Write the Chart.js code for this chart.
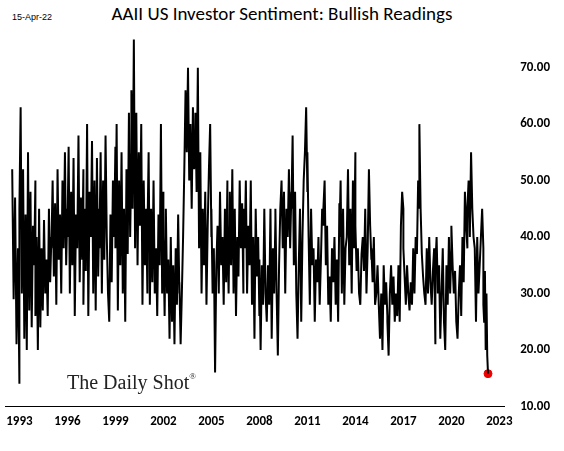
<!DOCTYPE html>
<html>
<head>
<meta charset="utf-8">
<script src="https://cdn.jsdelivr.net/npm/chart.js@4/dist/chart.umd.min.js"></script>
<style>
  html, body { margin: 0; padding: 0; background: #fff; }
  #wrap { position: relative; width: 564px; height: 451px; }
  #title { position: absolute; top: 2px; left: 0; width: 564px; text-align: center;
    font: 19px Calibri, "Liberation Sans", Arial, sans-serif; color: #000; }
  #date { position: absolute; top: 12px; left: 12px; font: 9px "Liberation Sans", Arial, sans-serif; }
  #chartBox { position: absolute; left: 0; top: 18px; width: 564px; height: 433px; }
</style>
</head>
<body>
<div id="wrap">
  <div id="title">AAII US Investor Sentiment: Bullish Readings</div>
  <div id="date">15-Apr-22</div>
  <div id="chartBox"><canvas id="c"></canvas></div>
</div>
<script>
// Bullish % readings, sampled roughly every 4 weeks, one row per calendar year
const startYears = [1992.55, 1993, 1994, 1995, 1996, 1997, 1998, 1999, 2000, 2001, 2002, 2003, 2004, 2005, 2006,
  2007, 2008, 2009, 2010, 2011, 2012, 2013, 2014, 2015, 2016, 2017, 2018, 2019, 2020, 2021, 2022];
const yearSpans = [0.45, 1, 1, 1, 1, 1, 1, 1, 1, 1, 1, 1, 1, 1, 1, 1, 1, 1, 1, 1, 1, 1, 1, 1, 1, 1, 1, 1, 1, 1, 0.29];
const bullishByYear = [
  [52, 29, 47, 21, 38, 14],
  [45, 63, 30, 52, 22, 44, 20, 55, 27, 48, 24, 42, 35, 50],
  [26, 40, 20, 45, 24, 38, 27, 43, 30, 36, 26, 45, 32, 40],
  [38, 50, 33, 46, 28, 52, 36, 44, 30, 50, 38, 55, 35, 45],
  [40, 56, 30, 48, 35, 54, 26, 44, 38, 58, 32, 47, 36, 52],
  [28, 45, 34, 60, 26, 48, 40, 57, 30, 50, 27, 54, 33, 45],
  [38, 55, 30, 50, 36, 58, 40, 30, 25, 44, 32, 50, 40, 56],
  [38, 60, 27, 50, 35, 55, 30, 45, 25, 52, 37, 62, 40, 55],
  [66, 45, 75, 38, 62, 35, 55, 42, 60, 28, 50, 35, 45, 30],
  [40, 55, 28, 45, 32, 50, 30, 38, 26, 44, 35, 60, 30, 48],
  [40, 26, 45, 30, 36, 22, 40, 25, 35, 21, 38, 28, 44, 30],
  [32, 21, 30, 40, 52, 66, 55, 70, 50, 60, 45, 63, 52, 58],
  [62, 48, 70, 38, 55, 30, 45, 35, 48, 28, 42, 52, 60, 40],
  [45, 30, 38, 16, 35, 42, 30, 48, 35, 40, 28, 45, 32, 50],
  [42, 30, 48, 35, 52, 30, 45, 26, 40, 33, 50, 38, 46, 30],
  [45, 38, 50, 30, 42, 35, 50, 28, 40, 22, 45, 33, 40, 26],
  [36, 20, 35, 28, 45, 30, 25, 35, 28, 45, 22, 38, 30, 43],
  [45, 30, 19, 35, 45, 50, 38, 48, 30, 45, 40, 52, 38, 48],
  [45, 58, 35, 48, 30, 22, 35, 45, 25, 40, 50, 55, 63, 48],
  [55, 40, 28, 45, 35, 38, 25, 36, 32, 40, 28, 36, 45, 42],
  [45, 50, 35, 42, 28, 33, 25, 38, 32, 40, 28, 36, 25, 46],
  [40, 50, 30, 45, 28, 38, 40, 52, 35, 45, 30, 50, 38, 55],
  [42, 34, 38, 30, 28, 37, 40, 34, 45, 30, 38, 52, 42, 36],
  [38, 32, 40, 28, 30, 35, 28, 22, 30, 20, 35, 28, 32, 26],
  [25, 19, 30, 35, 28, 33, 25, 30, 26, 35, 25, 42, 48, 45],
  [38, 33, 28, 35, 30, 27, 32, 28, 38, 30, 40, 37, 50, 45],
  [60, 45, 37, 33, 30, 28, 38, 30, 40, 32, 28, 34, 38, 21],
  [35, 40, 30, 35, 22, 30, 38, 25, 20, 35, 28, 40, 30, 38],
  [42, 35, 30, 34, 25, 22, 30, 35, 26, 40, 32, 48, 42, 38],
  [45, 50, 40, 55, 45, 40, 38, 25, 40, 30, 35, 40, 45, 38],
  [28, 25, 34, 20, 30, 19, 15.8]
];
const yTicks = [10, 20, 30, 40, 50, 60, 70];
const xTicks = [1993, 1996, 1999, 2002, 2005, 2008, 2011, 2014, 2017, 2020, 2023];

const points = [];
bullishByYear.forEach((vals, k) => {
  vals.forEach((v, i) => {
    const frac = vals.length > 1 ? i / (vals.length - 1) : 0;
    points.push({ x: startYears[k] + frac * yearSpans[k], y: v });
  });
});
const lastPoint = points[points.length - 1];

const watermark = {
  id: 'watermark',
  afterDraw(chart) {
    const ctx = chart.ctx;
    ctx.save();
    ctx.font = '20px "Liberation Serif", "Times New Roman", serif';
    ctx.fillStyle = '#222';
    ctx.fillText('The Daily Shot', 67, 371);
    const w = ctx.measureText('The Daily Shot').width;
    ctx.font = '9px "Liberation Serif", serif';
    ctx.fillText('®', 67 + w, 361);
    ctx.restore();
  }
};

const tickFont = { size: 13, weight: 'bold', family: 'Calibri, "Liberation Sans", Arial' };

new Chart(document.getElementById('c'), {
  type: 'scatter',
  data: {
    datasets: [
      { data: points, showLine: true, borderColor: '#000', borderWidth: 2, pointRadius: 0, tension: 0 },
      { data: [lastPoint], pointRadius: 4, pointBackgroundColor: '#e00', pointBorderColor: '#e00', showLine: false }
    ]
  },
  options: {
    responsive: true,
    maintainAspectRatio: false,
    animation: false,
    layout: { padding: { left: 4, right: 6, top: 0, bottom: 18 } },
    plugins: { legend: { display: false }, tooltip: { enabled: false } },
    scales: {
      x: {
        type: 'linear', min: 1992.1, max: 2023.3,
        afterBuildTicks: (ax) => { ax.ticks = xTicks.map(v => ({ value: v })); },
        ticks: { color: '#000', font: tickFont, maxRotation: 0, autoSkip: false, callback: v => String(v) },
        grid: { display: false, drawTicks: true, tickLength: 5, color: '#000' },
        border: { color: '#000' }
      },
      y: {
        position: 'right', min: 10, max: 76,
        afterBuildTicks: (ax) => { ax.ticks = yTicks.map(v => ({ value: v })); },
        ticks: { color: '#000', font: tickFont, callback: v => v.toFixed(2), padding: 8 },
        grid: { display: false },
        border: { display: false }
      }
    }
  },
  plugins: [watermark]
});
</script>
</body>
</html>
